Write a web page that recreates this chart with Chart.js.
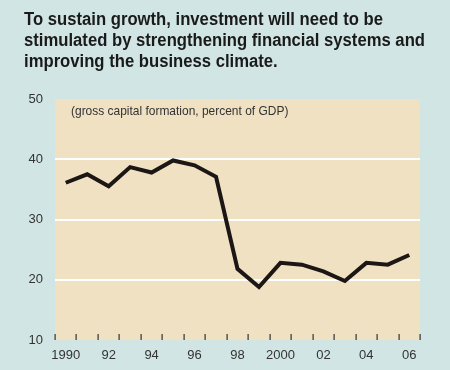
<!DOCTYPE html>
<html>
<head>
<meta charset="utf-8">
<script src="https://cdn.jsdelivr.net/npm/chart.js@4.4.1/dist/chart.umd.min.js"></script>
<style>
  html, body { margin: 0; padding: 0; background: #d1e6e4; }
  #wrap { position: relative; width: 450px; height: 370px; }
  #title {
    position: absolute; left: 24px; top: 9px; white-space: nowrap;
    font-family: "Liberation Sans Narrow", "Liberation Sans", sans-serif;
    font-weight: bold; font-size: 17.5px; line-height: 21px; color: #1a1a1a;
    transform-origin: 0 0;
  }
  canvas { position: absolute; left: 0; top: 0; }
</style>
</head>
<body>
<div id="wrap">
  <canvas id="chart" width="450" height="370"></canvas>
  <div id="title"><span>To sustain growth, investment will need to be</span><br><span id="widest">stimulated by strengthening financial systems and</span><br><span>improving the business climate.</span></div>
</div>
<script>
const years = ['1990', '91', '92', '93', '94', '95', '96', '97', '98', '99', '2000', '01', '02', '03', '04', '05', '06']
const shownYears = ['1990', '92', '94', '96', '98', '2000', '02', '04', '06']
const investment = [36.1, 37.5, 35.5, 38.7, 37.8, 39.8, 39.0, 37.1, 21.8, 18.8, 22.8, 22.5, 21.4, 19.8, 22.8, 22.5, 24.1]
const yTicks = [10, 20, 30, 40, 50]
const note = '(gross capital formation, percent of GDP)'

// squeeze the title to the condensed width of the original
const widest = document.getElementById('widest').getBoundingClientRect().width
document.getElementById('title').style.transform = 'scaleX(' + (401 / widest) + ')'

const axisFont = { family: '"Liberation Sans", Arial, sans-serif', size: 13 }

const plotExtras = {
    id: 'plotExtras',
    beforeDraw(chart) {
        const { ctx, chartArea: a } = chart
        ctx.save()
        ctx.fillStyle = '#f0e1c3'
        ctx.fillRect(a.left, a.top, a.right - a.left, a.bottom - a.top)
        ctx.restore()
    },
    afterDraw(chart) {
        const { ctx, chartArea: a } = chart
        const x = chart.scales.x
        ctx.save()
        ctx.fillStyle = '#333'
        for (let i = 0; i <= years.length; i++) {
            const px = Math.round(x.getPixelForValue(i - 0.5))
            ctx.fillRect(px - 0.5, a.bottom - 6, 1.2, 6)
        }
        ctx.font = '13px "Liberation Sans", Arial, sans-serif'
        ctx.textBaseline = 'alphabetic'
        ctx.translate(a.left + 16, a.top + 16)
        ctx.scale(0.92, 1)
        ctx.fillText(note, 0, 0)
        ctx.restore()
    }
}

new Chart(document.getElementById('chart'), {
    type: 'line',
    data: {
        labels: years,
        datasets: [
            {
                data: investment,
                borderColor: '#1c1714',
                borderWidth: 4,
                pointRadius: 0,
                tension: 0,
            },
        ],
    },
    options: {
        responsive: false,
        animation: false,
        layout: { padding: { top: 99, right: 30, left: 0, bottom: 0 } },
        plugins: { legend: { display: false }, tooltip: { enabled: false } },
        scales: {
            x: {
                offset: true,
                grid: { display: false },
                border: { display: false },
                afterFit: (s) => { s.height = 30 },
                ticks: {
                    autoSkip: false,
                    maxRotation: 0,
                    padding: 0,
                    color: '#333',
                    font: axisFont,
                    callback: function (v) {
                        const l = this.getLabelForValue(v)
                        return shownYears.includes(l) ? l : ''
                    },
                },
            },
            y: {
                min: yTicks[0],
                max: yTicks[yTicks.length - 1],
                afterFit: (s) => { s.width = 55 },
                afterBuildTicks: (s) => { s.ticks = yTicks.map((v) => ({ value: v })) },
                grid: {
                    drawTicks: false,
                    lineWidth: 2,
                    color: (c) => (c.tick && c.tick.value > 10 && c.tick.value < 50 ? '#ffffff' : 'rgba(0,0,0,0)'),
                },
                border: { display: false },
                ticks: { padding: 12, color: '#333', font: axisFont },
            },
        },
    },
    plugins: [plotExtras],
})
</script>
</body>
</html>
